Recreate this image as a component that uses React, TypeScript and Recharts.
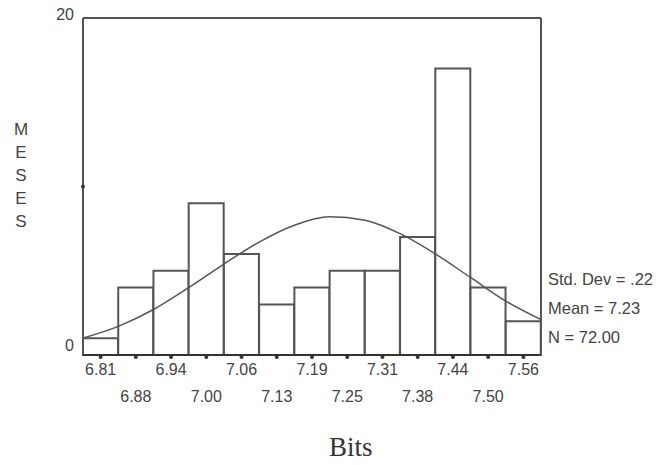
import { Bar, ComposedChart, Line, XAxis, YAxis } from "recharts";

// bin centres (Bits) and counts per bin (MESES)
const binLabels = [
  "6.81", "6.88", "6.94", "7.00", "7.06", "7.13", "7.19",
  "7.25", "7.31", "7.38", "7.44", "7.50", "7.56",
];
const binCounts = [1, 4, 5, 9, 6, 3, 4, 5, 5, 7, 17, 4, 2];

// normal curve read at the bin edges (edge index 0..13)
const curveEdges = [0, 1, 2, 3, 4, 5, 6, 7, 8, 9, 10, 11, 12, 13];
const curveValues = [1.0, 1.7, 2.7, 4.0, 5.4, 6.7, 7.7, 8.2, 8.0, 7.2, 6.0, 4.6, 3.2, 2.1];

const yTicks = [0, 10, 20];
const stats = ["Std. Dev = .22", "Mean = 7.23", "N = 72.00"];
const yTitle = "MESES";
const xTitle = "Bits";

const INK = "#555";
const TEXT = "#444";
const SANS = "Arial, 'Liberation Sans', sans-serif";

const bars = binLabels.map((label, i) => ({ label, count: binCounts[i] }));
const curve = curveEdges.map((edge, i) => ({ edge, value: curveValues[i] }));

function XTick(props: any) {
  const { x, y, payload, index } = props;
  const row = index % 2;
  return (
    <g>
      <circle cx={x} cy={y + 2} r={2} fill="#333" />
      <text
        x={x}
        y={y + (row === 0 ? 14 : 41)}
        textAnchor="middle"
        dominantBaseline="central"
        fontSize={16}
        fontFamily={SANS}
        fill={TEXT}
      >
        {payload.value}
      </text>
    </g>
  );
}

function YTick(props: any) {
  const { x, y, payload } = props;
  if (payload.value === 10) {
    return <circle cx={x} cy={y} r={2} fill="#333" />;
  }
  const dy = payload.value === 0 ? -10 : -4;
  return (
    <text
      x={x - 9}
      y={y + dy}
      textAnchor="end"
      dominantBaseline="central"
      fontSize={16}
      fontFamily={SANS}
      fill={TEXT}
    >
      {payload.value}
    </text>
  );
}

export default function App() {
  return (
    <div
      style={{
        position: "absolute",
        left: 0,
        top: 0,
        width: 662,
        height: 465,
        background: "#fff",
      }}
    >
      <ComposedChart
        width={662}
        height={465}
        data={bars}
        barCategoryGap={0}
        barGap={0}
        margin={{ top: 16, right: 119, left: 43, bottom: 60 }}
      >
        <XAxis
          dataKey="label"
          interval={0}
          tickLine={false}
          tickSize={0}
          tickMargin={0}
          axisLine={{ stroke: "#333", strokeWidth: 2 }}
          tick={<XTick />}
          height={50}
        />
        <XAxis
          xAxisId="curve"
          type="number"
          dataKey="edge"
          orientation="top"
          domain={[0, 13]}
          allowDataOverflow
          tick={false}
          tickLine={false}
          height={2}
          axisLine={{ stroke: INK, strokeWidth: 2 }}
        />
        <YAxis
          domain={[0, 20]}
          ticks={yTicks}
          interval={0}
          tickLine={false}
          tickSize={0}
          tickMargin={0}
          axisLine={{ stroke: INK, strokeWidth: 2 }}
          tick={<YTick />}
          width={40}
        />
        <YAxis
          yAxisId="frame"
          orientation="right"
          domain={[0, 20]}
          tick={false}
          tickLine={false}
          width={2}
          axisLine={{ stroke: INK, strokeWidth: 2 }}
        />
        <Bar
          dataKey="count"
          fill="#fff"
          stroke={INK}
          strokeWidth={2}
          isAnimationActive={false}
        />
        <Line
          xAxisId="curve"
          data={curve}
          dataKey="value"
          type="monotone"
          stroke={INK}
          strokeWidth={1.5}
          dot={false}
          isAnimationActive={false}
        />
      </ComposedChart>

      <div
        style={{
          position: "absolute",
          left: 11,
          top: 118,
          width: 20,
          textAlign: "center",
          fontFamily: SANS,
          fontSize: 17,
          lineHeight: "23px",
          color: TEXT,
        }}
      >
        {yTitle.split("").map((ch, i) => (
          <div key={i}>{ch}</div>
        ))}
      </div>

      <div
        style={{
          position: "absolute",
          left: 548,
          top: 265,
          fontFamily: SANS,
          fontSize: 16.5,
          lineHeight: "29px",
          color: TEXT,
          whiteSpace: "nowrap",
        }}
      >
        {stats.map((s, i) => (
          <div key={i}>{s}</div>
        ))}
      </div>

      <div
        style={{
          position: "absolute",
          left: 329,
          top: 432,
          fontFamily: "'Liberation Serif', 'Times New Roman', serif",
          fontSize: 27,
          lineHeight: "30px",
          color: "#333",
        }}
      >
        {xTitle}
      </div>
    </div>
  );
}
